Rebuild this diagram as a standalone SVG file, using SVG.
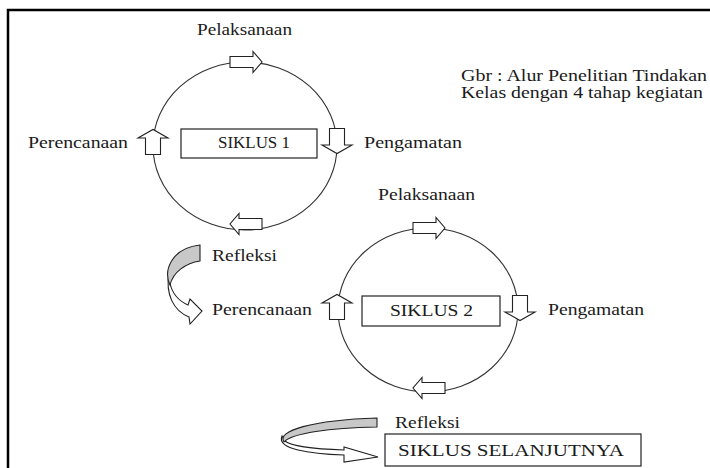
<svg xmlns="http://www.w3.org/2000/svg" width="710" height="468" viewBox="0 0 710 468">
<defs>
<style>
.t{font-family:"Liberation Serif","Times New Roman",serif;font-size:16px;fill:#1a1a1a}
.c{fill:none;stroke:#333;stroke-width:1.1}
.b{fill:#fff;stroke:#222;stroke-width:1.2}
.a{fill:#fff;stroke:#222;stroke-width:1.1;stroke-linejoin:miter}
.g{fill:#c8c8c8;stroke:#222;stroke-width:1.1}
.w{fill:#fff;stroke:#222;stroke-width:1.1}
</style>
<path id="ar" d="M-16,-5.5 H7 V-10.5 L16,0 L7,10.5 V5.5 H-16 Z"/>
<path id="al" d="M16,-5.5 H-7 V-10.5 L-16,0 L-7,10.5 V5.5 H16 Z"/>
<path id="au" d="M-7.5,12.5 V-4 H-15 L0,-12.5 L15,-4 H7.5 V12.5 Z"/>
<path id="ad" d="M-7.5,-12.5 V4 H-15 L0,12.5 L15,4 H7.5 V-12.5 Z"/>
</defs>
<rect width="710" height="468" fill="#fff"/>
<path d="M8,468 V10 H710" fill="none" stroke="#000" stroke-width="2.5"/>

<g id="caption">
<text class="t" x="461" y="81" textLength="246" lengthAdjust="spacingAndGlyphs">Gbr : Alur Penelitian Tindakan</text>
<text class="t" x="461" y="98" textLength="242" lengthAdjust="spacingAndGlyphs">Kelas dengan 4 tahap kegiatan</text>
</g>

<g id="connectors">
<ellipse class="c" cx="245" cy="146" rx="92" ry="84"/>
<ellipse class="c" cx="428" cy="310" rx="90" ry="82"/>
<use href="#ar" class="a" x="246" y="62"/>
<use href="#ad" class="a" x="337" y="141"/>
<use href="#al" class="a" x="246" y="224"/>
<use href="#au" class="a" x="153" y="142"/>
<use href="#ar" class="a" x="429" y="228"/>
<use href="#ad" class="a" x="520" y="308"/>
<use href="#al" class="a" x="429" y="388"/>
<use href="#au" class="a" x="337" y="307"/>
<g id="refleksi1-arrow">
<path class="w" d="M169,272 C165,295 174,311 189,317 L190,324 L202,311 L190,299 L188,305 C179,301 172,293 170,283 Z"/>
<path class="g" d="M200,245 L200,261 C186,263 173,272 170,285 C163,270 172,248 200,245 Z"/>
</g>
<g id="refleksi2-arrow">
<path class="w" d="M282,436 C276,449 310,454 344,455 L344,462 L378,457 L344,447 L344,450 C315,449 292,447 285,441 Z"/>
<path class="g" d="M377,418 L377,427 C330,428 292,433 284,442 C276,431 312,420 377,418 Z"/>
</g>
</g>

<g id="pelaksanaan1"><text class="t" x="197" y="35" textLength="95" lengthAdjust="spacingAndGlyphs">Pelaksanaan</text></g>
<g id="perencanaan1"><text class="t" x="28" y="148" textLength="100" lengthAdjust="spacingAndGlyphs">Perencanaan</text></g>
<g id="siklus1"><rect class="b" x="181" y="129" width="136" height="29"/><text class="t" x="218" y="148" textLength="72" lengthAdjust="spacingAndGlyphs">SIKLUS 1</text></g>
<g id="pengamatan1"><text class="t" x="364" y="148" textLength="98" lengthAdjust="spacingAndGlyphs">Pengamatan</text></g>
<g id="refleksi1"><text class="t" x="212" y="261" textLength="65" lengthAdjust="spacingAndGlyphs">Refleksi</text></g>
<g id="perencanaan2"><text class="t" x="212" y="315" textLength="100" lengthAdjust="spacingAndGlyphs">Perencanaan</text></g>
<g id="pelaksanaan2"><text class="t" x="378" y="200" textLength="97" lengthAdjust="spacingAndGlyphs">Pelaksanaan</text></g>
<g id="siklus2"><rect class="b" x="362" y="296" width="138" height="30"/><text class="t" x="390" y="316" textLength="83" lengthAdjust="spacingAndGlyphs">SIKLUS 2</text></g>
<g id="pengamatan2"><text class="t" x="548" y="315" textLength="96" lengthAdjust="spacingAndGlyphs">Pengamatan</text></g>
<g id="refleksi2"><text class="t" x="395" y="428" textLength="65" lengthAdjust="spacingAndGlyphs">Refleksi</text></g>
<g id="siklus-selanjutnya"><rect class="b" x="385" y="434" width="256" height="32"/><text class="t" x="398" y="456" textLength="226" lengthAdjust="spacingAndGlyphs">SIKLUS SELANJUTNYA</text></g>
</svg>
